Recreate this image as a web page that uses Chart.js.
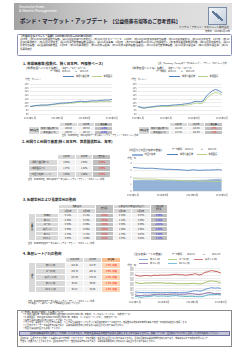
<!DOCTYPE html>
<html lang="ja"><head><meta charset="utf-8">
<script src="https://cdn.jsdelivr.net/npm/chart.js@4.4.1/dist/chart.umd.min.js"></script>
<style>
html,body{margin:0;padding:0;background:#fff}
body{width:250px;height:353px;position:relative;overflow:hidden;font-family:"Noto Sans CJK JP","Noto Sans",sans-serif;color:#222}
.a{position:absolute;white-space:nowrap;line-height:1}
.bx{position:absolute;box-sizing:border-box}
table.t{position:absolute;border-collapse:collapse;table-layout:fixed;font-size:2.2px;line-height:1}
table.t td{padding:0;border:1px solid #fff;text-align:center;white-space:nowrap;overflow:hidden}
.g{background:#d9d9d9}.w{background:#f2f2f2}.d{background:#bfbfbf}.o{background:#fcd5b4}.oh{background:#f9bf8f}
.b{color:#0000ff}.r{color:#ff0000}
canvas{position:absolute}
.vt{display:inline-block;writing-mode:vertical-rl;letter-spacing:0.3px}
</style></head><body>
<script>
const FONT='"Noto Sans CJK JP","Noto Sans",sans-serif';
// ---------- categories ----------
const dates=["2014/01/03","2014/01/17","2014/01/31","2014/02/14","2014/02/28","2014/03/14","2014/03/28","2014/04/11","2014/04/25","2014/05/09","2014/05/23","2014/06/06","2014/06/20","2014/07/04","2014/07/18","2014/08/01","2014/08/15","2014/08/29","2014/09/12","2014/09/26","2014/10/10","2014/10/24","2014/11/07","2014/11/21","2014/12/05","2014/12/19","2015/01/02","2015/01/09"];
const tickDates=["2014/01/03","2014/05/09","2014/09/12","2015/01/09"];
const tickLabels=["2014年1月","2014年5月","2014年9月","2015年1月"];
// ---------- section 1 ----------
const hedgedUtility=[100.0,100.6,101.3,101.6,102.0,101.9,102.1,102.8,103.2,103.9,104.4,104.6,104.9,105.3,105.6,106.2,106.8,107.0,106.5,106.8,107.4,107.6,107.5,108.1,108.3,108.6,108.5,109.5];
const hedgedTreasury=[100.0,100.5,101.4,101.5,101.8,101.6,101.7,102.3,102.6,103.1,103.6,103.7,103.9,104.2,104.4,104.9,105.6,105.7,105.0,105.4,106.2,106.1,106.0,106.5,106.6,106.8,106.3,107.1];
const unhedgedUtility=[100.0,98.6,97.9,98.8,99.3,99.9,100.6,100.9,101.3,101.0,101.2,101.9,102.1,102.5,102.7,103.4,103.9,104.6,106.3,107.0,106.2,107.4,113.9,117.6,121.2,122.6,121.3,118.1];
const unhedgedTreasury=[100.0,98.5,97.6,98.4,98.8,99.2,99.8,100.0,100.3,100.0,100.1,100.6,100.7,101.0,101.1,101.6,102.0,102.6,104.0,104.6,103.8,104.8,110.6,114.0,117.4,118.6,117.8,115.7];
const priceCols=["1月2日","1月9日","騰落率"];
const priceRowNames=["世界公益債券(*1)","世界国債(*2)"];
const hedgedTable=[["108.48","109.53","+1.0%"],["106.33","107.14","+0.8%"]];
const unhedgedTable=[["121.30","118.06","-2.7%"],["117.82","115.69","-1.8%"]];
// ---------- section 2 ----------
const yieldUtility=[3.35,3.33,3.27,3.26,3.23,3.25,3.25,3.20,3.17,3.13,3.10,3.10,3.08,3.06,3.04,3.01,2.96,2.95,3.02,3.00,2.95,2.97,2.99,2.99,3.01,3.02,3.06,2.98];
const yieldTreasury=[1.82,1.80,1.73,1.73,1.70,1.72,1.72,1.67,1.64,1.60,1.57,1.57,1.55,1.54,1.52,1.49,1.43,1.42,1.49,1.46,1.40,1.41,1.42,1.40,1.37,1.35,1.37,1.32];
const yieldSpread=[1.53,1.53,1.54,1.53,1.53,1.53,1.53,1.53,1.53,1.53,1.53,1.53,1.53,1.52,1.52,1.52,1.53,1.53,1.53,1.54,1.55,1.56,1.57,1.59,1.64,1.67,1.69,1.66];
const yieldCols=["1月2日","1月9日","変化幅"];
const yieldRowNames=["①世界公益債券(*1)","②世界国債(*2)","③利回り格差(①－②)"];
const yieldTable=[["3.06%","2.98%","-0.08%"],["1.37%","1.32%","-0.05%"],["1.69%","1.66%","-0.03%"]];
// ---------- section 3 ----------
const rateRowNames=["日本円","米ドル","ユーロ","英ポンド","豪ドル","NZドル"];
const shortRates=[["0.11%","0.11%","-0.00%"],["0.26%","0.25%","-0.01%"],["0.08%","0.06%","-0.02%"],["0.56%","0.56%","-0.00%"],["2.74%","2.71%","-0.03%"],["3.67%","3.66%","-0.01%"]];
const longRates=[["0.33%","0.27%","-0.06%"],["2.12%","1.95%","-0.16%"],["0.50%","0.49%","+0.01%"],["1.68%","1.60%","-0.08%"],["2.78%","2.67%","-0.08%"],["3.67%","3.52%","-0.14%"]];
// ---------- section 4 ----------
const fxNames=["米ドル/円","ユーロ/円","英ポンド/円","豪ドル/円","NZドル/円"];
const fxCols=["12月30日","1月9日","騰落率"];
const fxTable=[["120.42","118.57","-1.5%"],["145.76","140.12","-3.9%"],["187.04","179.28","-4.1%"],["98.24","96.98","-1.3%"],["94.13","92.40","-1.8%"]];
const usdjpy=[104.3,102.6,102.0,101.8,101.8,101.3,102.8,101.6,102.2,101.8,101.9,102.5,102.0,102.1,101.3,102.6,102.4,104.1,107.3,109.3,107.6,108.1,114.6,117.8,121.4,119.5,120.5,118.6];
const eurjpy=[143.0,139.9,137.6,139.7,140.9,140.2,141.6,140.4,141.5,140.1,138.9,139.8,138.9,137.3,136.8,137.4,136.9,136.9,139.1,138.3,136.2,136.9,142.2,146.2,148.6,146.5,145.0,140.1];
const gbpjpy=[172.7,168.4,167.4,170.2,169.9,168.2,171.3,170.3,171.8,171.2,171.9,172.0,173.9,175.0,172.9,173.1,171.0,172.8,174.3,177.4,172.3,173.9,182.8,185.0,190.0,186.9,185.1,179.3];
const audjpy=[93.1,89.5,89.2,91.4,90.9,91.5,94.9,94.7,94.6,95.2,93.5,95.2,95.8,95.8,94.5,95.3,95.2,97.2,96.6,95.5,93.6,95.1,98.3,101.6,100.8,96.8,97.9,97.0];
const nzdjpy=[86.2,84.9,82.4,85.1,85.4,86.9,89.3,87.3,87.6,88.0,86.6,87.5,88.9,89.6,87.5,87.4,86.0,86.8,87.0,85.5,85.3,85.3,88.5,93.0,93.4,93.5,94.2,92.4];

const C_BLUE='#4f81bd',C_GREEN='#b9d08a',C_AREA='#95b3d7';
const FX_COL=['#5b8fd0','#9bbb59','#c0504d','#8064a2','#4bacc6'];

// ---------- helpers ----------
function T(x,y,size,text,css){const d=document.createElement('div');d.className='a';d.style.left=x+'px';d.style.top=y+'px';d.style.fontSize=size+'px';if(css)d.style.cssText+=css;d.textContent=text;document.body.appendChild(d);return d;}
function R(x,y,w,h,css){const d=document.createElement('div');d.className='bx';d.style.left=x+'px';d.style.top=y+'px';d.style.width=w+'px';d.style.height=h+'px';d.style.cssText+=css;document.body.appendChild(d);return d;}
function addTable(left,top,widths,rows,fs){
  const tb=document.createElement('table');tb.className='t';
  tb.style.left=left+'px';tb.style.top=top+'px';tb.style.width=widths.reduce((a,b)=>a+b,0)+'px';
  if(fs)tb.style.fontSize=fs+'px';
  const cg=document.createElement('colgroup');
  widths.forEach(w=>{const c=document.createElement('col');c.style.width=w+'px';cg.appendChild(c);});
  tb.appendChild(cg);const body=document.createElement('tbody');
  rows.forEach(r=>{const tr=document.createElement('tr');tr.style.height=r.h+'px';
    r.cells.forEach(c=>{const td=document.createElement('td');
      if(c.html)td.innerHTML=c.html;else td.textContent=c.t||'';
      if(c.c)td.className=c.c;if(c.cs)td.colSpan=c.cs;if(c.rs)td.rowSpan=c.rs;if(c.s)td.style.cssText+=c.s;tr.appendChild(td);});
    body.appendChild(tr);});
  tb.appendChild(body);document.body.appendChild(tb);
}
function mkChart(left,top,plotW,plotH,yMin,yMax,yStep,datasets,yFont){
  const yw=10,pt=3,pr=8,xh=7;
  const c=document.createElement('canvas');
  c.width=yw+plotW+pr;c.height=pt+plotH+xh;
  c.style.left=(left-yw)+'px';c.style.top=(top-pt)+'px';
  document.body.appendChild(c);
  new Chart(c.getContext('2d'),{type:'line',data:{labels:dates,datasets:datasets},options:{
    responsive:false,animation:false,events:[],devicePixelRatio:1,
    layout:{padding:{left:0,top:pt,right:pr,bottom:0}},
    plugins:{legend:{display:false},tooltip:{enabled:false}},
    elements:{point:{radius:0},line:{tension:0,borderWidth:0.9}},
    scales:{
      x:{grid:{display:false,drawTicks:false},border:{display:false},
        ticks:{autoSkip:false,maxRotation:0,minRotation:0,padding:2.2,color:'#555',font:{size:2.5,family:FONT},
          callback:(v,i)=>{const k=tickDates.indexOf(dates[i]);return k<0?'':tickLabels[k];}},
        afterFit:s=>{s.height=xh;}},
      y:{min:yMin,max:yMax,grid:{color:'#d9d9d9',lineWidth:0.5,drawTicks:false},border:{display:false},
        ticks:{stepSize:yStep,autoSkip:false,maxTicksLimit:30,padding:1.5,color:'#555',font:{size:yFont,family:FONT}},
        afterFit:s=>{s.width=yw;}}
    }}});
}

// ---------- header ----------
R(14,3,218,27,'background:linear-gradient(90deg,#a3a3a3 0%,#c0c0c0 25%,#d6d6d6 55%,#e2e2e2 100%)');
T(19,5.2,3.6,'Deutsche Asset','color:#fff');
T(19,8.9,3.6,'& Wealth Management','color:#fff');
T(20,18.6,5.5,'ボンド・マーケット・アップデート','font-weight:700;color:#1a1a2e');
T(110,19.2,4.7,'【公益債券市場等のご参考資料】','font-weight:700;color:#1a1a2e');
R(208,7,19,18,'border:1.6px solid #7b8ca6;background:linear-gradient(135deg,#f2f5f9,#c4cfdd)');
R(212,11,11,10,'background:linear-gradient(to top right,transparent 42%,#5f7898 42%,#5f7898 58%,transparent 58%)');
T(229,25.8,2.5,'ドイチェ・アセット・マネジメント株式会社','transform:translateX(-100%);color:#222');
T(230,30.4,2.3,'作成日：2015年1月13日','transform:translateX(-100%);color:#222');

// ---------- event box ----------
R(17,33.5,215,22,'border:0.7px solid #8c90b4;border-radius:1.5px');
T(20,35,2.5,'【今週の主なイベント・指標】(2015年1月5日～2015年1月9日)','font-weight:700');
T(20,38.3,2.4,'1月5日：(米)12月ISM製造業景況指数、(欧)12月製造業PMI(改定値)、(日)12月マネタリーベース　1月6日：(米)12月ISM非製造業景況指数、(米)11月製造業受注、(豪)11月貿易収支　1月7日：(米)12月ADP雇用統計、(米)11月貿易収支、(欧)12月消費者物価指数(速報値)、(欧)11月失業率　1月8日：(米)FOMC議事録(12月16～17日開催分)、(米)新規失業保険申請件数、(独)11月製造業受注、(欧)12月景況感指数、(英)金融政策委員会　1月9日：(米)12月雇用統計、(米)11月卸売在庫、(日)11月景気動向指数(速報値)、(中)12月消費者物価指数、(英)11月鉱工業生産、(独)11月鉱工業生産、(加)12月雇用統計','white-space:normal;width:210px;line-height:3.1px;height:15.6px;overflow:hidden');

// ---------- section 1 ----------
T(23,61.8,3.5,'1. 市場価格等(指数化、除く日本円、円換算ベース)','font-weight:700');
T(158,62.6,1.8,'出所：Bloomberg、Barclaysのデータを基にドイチェ・アセット・マネジメント作成');
[[0,'【世界各国ヘッジあり指数】','(為替ヘッジあり・円ベース)'],[106,'【世界各国ヘッジなし指数】','(為替ヘッジなし・円ベース)']].forEach(([o,a,b])=>{
  T(25+o,67.4,2.6,a);T(62+o,67.8,1.9,b);
  T(50+o,71.4,2,'データ期間');T(62+o,71.4,2,'2014/1/1');T(75+o,71.4,2,'～');T(80+o,71.4,2,'2015/1/9');
  R(63+o,76.3,11,0.9,'background:'+C_BLUE);T(76+o,75.2,2.2,'世界公益債券');
  R(92+o,76.3,10,0.9,'background:'+C_GREEN);T(103.5+o,75.2,2.2,'世界国債');
  T(25+o,79.2,2,'(単位：ポイント)');
});
mkChart(30,84,82,30,90,130,5,[
  {label:'世界公益債券',data:hedgedUtility,borderColor:C_BLUE},
  {label:'世界国債',data:hedgedTreasury,borderColor:C_GREEN}],2.4);
mkChart(138,84,84,30,90,130,5,[
  {label:'世界公益債券',data:unhedgedUtility,borderColor:C_BLUE},
  {label:'世界国債',data:unhedgedTreasury,borderColor:C_GREEN}],2.4);
function priceRows(tbl,neg){
  const rows=[{h:4.2,cells:[{t:''},{t:''},{t:priceCols[0],c:'g'},{t:priceCols[1],c:'g'},{t:priceCols[2],c:'d'}]}];
  tbl.forEach((r,i)=>{const cells=[];if(i===0)cells.push({t:'価格指数',c:'g',rs:2});
    cells.push({t:priceRowNames[i],c:'g'},{t:r[0],c:'w'},{t:r[1],c:'w'},{t:r[2],c:'d '+(neg?'r':'b')});
    rows.push({h:4.2,cells});});
  return rows;
}
addTable(28,121.5,[11,20,17.7,17.7,17.6],priceRows(hedgedTable,false));
addTable(138,121.5,[11,20,17.7,17.7,17.6],priceRows(unhedgedTable,true));
T(62,135.4,2,'出所：Bloomberg、Barclaysのデータを基にドイチェ・アセット・マネジメント作成');

// ---------- section 2 ----------
T(22,140.2,3.5,'2. 利回りと利回り格差(除く日本円、世界国債対比、年率)','font-weight:700');
(function(){const rows=[{h:5,cells:[{t:''},{t:yieldCols[0],c:'g'},{t:yieldCols[1],c:'g'},{t:yieldCols[2],c:'d'}]}];
  yieldTable.forEach((r,i)=>{const last=i===2;rows.push({h:6,cells:[{t:yieldRowNames[i],c:'g',s:'text-align:left;padding-left:1px'},{t:r[0],c:last?'g':'w'},{t:r[1],c:last?'g':'w'},{t:r[2],c:'d r'}]});});
  addTable(28,153.5,[29,17.7,17.7,17.6],rows);})();
T(28,178.8,2,'出所：Bloomberg、Barclaysのデータを基にドイチェ・アセット・マネジメント作成');
T(128,148.6,2.5,'【利回りと利回り格差の推移】');
T(172,149,2,'データ期間');T(185,149,2,'2014/1/1');T(201,149,2,'～');T(208,149,2,'2015/1/9');
R(132,153.6,11,2,'background:'+C_AREA);T(144.5,153.3,2.2,'利回り格差');
R(167,154.3,11,0.9,'background:'+C_BLUE);T(180,153.3,2.2,'世界公益債券');
R(197,154.3,10,0.9,'background:'+C_GREEN);T(208.5,153.3,2.2,'世界国債');
T(127,157.8,2,'(単位：%)');
mkChart(133,163,89,28,0,4,1,[
  {label:'世界公益債券',data:yieldUtility,borderColor:C_BLUE,order:1},
  {label:'世界国債',data:yieldTreasury,borderColor:C_GREEN,order:2},
  {label:'利回り格差',data:yieldSpread,borderColor:C_AREA,backgroundColor:C_AREA,borderWidth:0.5,fill:'origin',order:3}],2.4);

// ---------- section 3 ----------
T(23,198.3,3.5,'3. 短期金利および長期金利の動向','font-weight:700');
(function(){const rows=[
  {h:4.5,cells:[{t:'',cs:2,rs:2},{t:'短期金利',c:'g',cs:2},{t:'変化幅',c:'d',rs:2},{t:'長期金利(10年国債利回り)',c:'g',cs:2},{html:'<div style="line-height:2.5px">長短金利差</div><div style="line-height:2.5px">変化幅</div>',c:'d',rs:2,s:'font-size:1.9px'}]},
  {h:4.5,cells:[{t:'1月2日',c:'g'},{t:'1月9日',c:'g'},{t:'1月2日',c:'g'},{t:'1月9日',c:'g'}]}];
  rateRowNames.forEach((n,i)=>{const cells=[];if(i===0)cells.push({html:'<span class="vt">主要国</span>',c:'g',rs:6});
    const s=shortRates[i],l=longRates[i];
    cells.push({t:n,c:'g'},{t:s[0],c:'w'},{t:s[1],c:'w'},{t:s[2],c:'d r'},{t:l[0],c:'w'},{t:l[1],c:'w'},{t:l[2],c:'d b'});
    rows.push({h:4.6,cells});});
  addTable(28,203.5,[7,23,19,18,17.5,18.5,18.5,17.5],rows);})();
T(28,242.6,2,'出所：Bloombergのデータを基にドイチェ・アセット・マネジメント作成');

// ---------- section 4 ----------
T(23,251.8,3.5,'4. 為替レート(*3)の動向','font-weight:700');
(function(){const rows=[{h:5,cells:[{t:'',cs:2},{t:fxCols[0],c:'g'},{t:fxCols[1],c:'g'},{t:fxCols[2],c:'oh'}]}];
  fxTable.forEach((r,i)=>{const cells=[];if(i===0)cells.push({html:'<span class="vt">通貨</span>',c:'g',rs:5});
    cells.push({t:fxNames[i],c:'g'},{t:r[0],c:'w'},{t:r[1],c:'w'},{html:r[2]+'&nbsp;&nbsp;&nbsp;円高',c:'o r'});
    rows.push({h:6,cells});});
  addTable(28,256.5,[7,30,18,18,19],rows);})();
T(28,300.6,2,'出所：Bloombergのデータを基にドイチェ・アセット・マネジメント作成');
T(28,303.4,2,'(*3) 為替レートはニューヨーク市場終値を使用しています。');
T(133,253.4,2.5,'【主な各種レートの推移】');
T(172,253.8,2,'データ期間');T(187,253.8,2,'2014/1/1');T(203,253.8,2,'～');T(212,253.8,2,'2015/1/9');
[[139,258.2,0],[168,258.2,1],[194,258.2,2],[139,262.2,3],[168,262.2,4]].forEach(([x,y,k])=>{
  R(x,y+0.5,9,1.4,'background:'+FX_COL[k]+';opacity:0.75');T(x+11,y,2.2,fxNames[k]);});
T(127,265.3,2,'(単位：円)');
mkChart(135,268,86,30,80,200,10,[
  {label:fxNames[0],data:usdjpy,borderColor:FX_COL[0]},
  {label:fxNames[1],data:eurjpy,borderColor:FX_COL[1]},
  {label:fxNames[2],data:gbpjpy,borderColor:FX_COL[2]},
  {label:fxNames[3],data:audjpy,borderColor:FX_COL[3]},
  {label:fxNames[4],data:nzdjpy,borderColor:FX_COL[4]}],2);

// ---------- bottom box ----------
R(17,309.5,215,37,'border:0.7px solid #8a8a8a');
T(20,311.2,2.3,'【ご参考】本資料で使用した指数について');
['(*1) 世界公益債券：Barclays Global Aggregate Utilities Index (除く日本円、ヘッジあり／ヘッジなし、円換算ベース)',
 '(*2) 世界国債：Barclays Global Treasury Index (除く日本円、ヘッジあり／ヘッジなし、円換算ベース)',
 '※指数化は2014年1月1日を100として計算しています。',
 '※ヘッジなしは為替ヘッジを行わない場合、ヘッジありは為替ヘッジを行った場合の円換算ベースの値です。各指数の著作権等の知的財産権その他一切の権利は各社に帰属します。',
 '※上記のグラフ・データは過去の実績であり、将来の運用成果等を示唆あるいは保証するものではありません。',
 '※利回りは最終利回りを使用しています。'].forEach((s,i)=>T(23,314.2+i*2.7,2.05,s));
R(19,330.8,211,5.2,'background:#c4c5d9;border:0.7px solid #6f70a2');
T(124.5,332.3,2.3,'当資料は情報提供を目的として作成したものであり、特定の金融商品の推奨や勧誘を目的とするものではありません。最終ページの「当資料についてのご注意」を必ずお読みください。','transform:translateX(-50%);color:#222');
T(20,338.3,2.05,'当資料は、信頼できると判断した情報等に基づき作成しておりますが、その正確性・完全性を保証するものではありません。当資料記載の情報は作成時点のものであり、市場の環境やその他の状況によって');
T(20,341,2.05,'予告なく変更することがあります。当資料中のグラフ・数値等は過去のものであり、将来の運用成果等を示唆あるいは保証するものではありません。');
</script>
</body></html>
